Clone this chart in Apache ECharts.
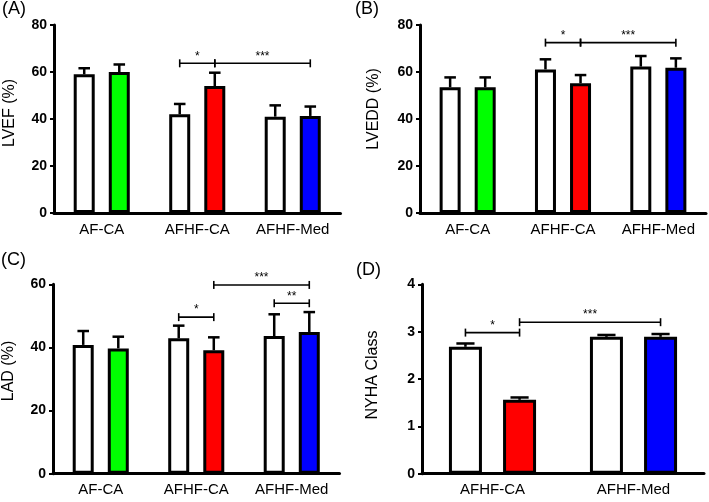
<!DOCTYPE html>
<html><head><meta charset="utf-8">
<script src="https://cdn.jsdelivr.net/npm/echarts@6/dist/echarts.min.js"></script>
<style>html,body{margin:0;padding:0;background:#fff}#c{width:709px;height:502px}</style>
</head><body><div id="c"></div>
<script>
// ---- data ----
const catsABC = ['AF-CA', 'AFHF-CA', 'AFHF-Med'];
const catsD = ['AFHF-CA', 'AFHF-Med'];
const colorsABC = ['#00ff00', '#ff0000', '#0000ff'];
const colorsD = ['#ff0000', '#0000ff'];

const lvefBefore = [59, 42, 41];
const lvefBeforeErr = [2.6, 4.4, 4.8];
const lvefAfter = [60, 54, 41.3];
const lvefAfterErr = [3.2, 5.7, 4.0];

const lveddBefore = [53.5, 61.1, 62.3];
const lveddBeforeErr = [4.2, 4.3, 4.5];
const lveddAfter = [53.5, 55.2, 61.8];
const lveddAfterErr = [4.2, 3.5, 4.0];

const ladBefore = [40.8, 42.9, 43.6];
const ladBeforeErr = [4.4, 4.0, 6.9];
const ladAfter = [39.7, 39.1, 44.9];
const ladAfterErr = [3.7, 4.1, 6.3];

const nyhaBefore = [2.68, 2.89];
const nyhaBeforeErr = [0.07, 0.04];
const nyhaAfter = [1.56, 2.89];
const nyhaAfterErr = [0.05, 0.06];

// brackets: [fromCategory, fromSide(0 white,1 colour), toCategory, toSide, y]
const lvefBrackets = [[1, 0, 1, 1, 63.7], [1, 1, 2, 1, 63.7]];
const lvefBracketLabels = ['*', '***'];
const lveddBrackets = [[1, 0, 1, 1, 72.5], [1, 1, 2, 1, 72.5]];
const lveddBracketLabels = ['*', '***'];
const ladBrackets = [[1, 0, 1, 1, 49.6], [2, 0, 2, 1, 54], [1, 1, 2, 1, 59.8]];
const ladBracketLabels = ['*', '**', '***'];
const nyhaBrackets = [[0, 0, 0, 1, 2.98], [0, 1, 1, 1, 3.2]];
const nyhaBracketLabels = ['*', '***'];

const yNames = ['LVEF (%)', 'LVEDD (%)', 'LAD (%)', 'NYHA Class'];
const panelLabels = ['(A)', '(B)', '(C)', '(D)'];

// ---- layout ----
const FONT = 'Liberation Sans, Arial, sans-serif';
const grids = [
  {left: 54, top: 25, width: 286.5, height: 188},
  {left: 420, top: 25, width: 286, height: 188},
  {left: 53, top: 284.3, width: 286.5, height: 189.4},
  {left: 422, top: 284.3, width: 282, height: 189.4}
];
const yRanges = [[0, 80, 20], [0, 80, 20], [0, 60, 20], [0, 4, 1]];
const nameGaps = [36, 38, 36, 41];
const namePads = [[0, 0, 0, 12], [0, 0, 0, 20], [0, 0, 0, 16], [0, 0, 0, 8]];
const barW = [21, 21, 21, 33];
const barGapFrac = [0.67, 0.67, 0.67, 0.64];

const panels = [
  {cats: catsABC, colors: colorsABC, b: lvefBefore, be: lvefBeforeErr, a: lvefAfter, ae: lvefAfterErr, br: lvefBrackets, bl: lvefBracketLabels},
  {cats: catsABC, colors: colorsABC, b: lveddBefore, be: lveddBeforeErr, a: lveddAfter, ae: lveddAfterErr, br: lveddBrackets, bl: lveddBracketLabels},
  {cats: catsABC, colors: colorsABC, b: ladBefore, be: ladBeforeErr, a: ladAfter, ae: ladAfterErr, br: ladBrackets, bl: ladBracketLabels},
  {cats: catsD, colors: colorsD, b: nyhaBefore, be: nyhaBeforeErr, a: nyhaAfter, ae: nyhaAfterErr, br: nyhaBrackets, bl: nyhaBracketLabels}
];

const xAxes = [], yAxes = [], series = [];
panels.forEach((p, i) => {
  xAxes.push({
    type: 'category', gridIndex: i, data: p.cats,
    axisLine: {lineStyle: {color: '#000', width: 3}},
    axisTick: {alignWithLabel: true, length: 5, lineStyle: {color: '#000', width: 2}},
    axisLabel: {color: '#000', fontSize: 15, fontFamily: FONT, margin: 9, interval: 0},
    splitLine: {show: false}
  });
  yAxes.push({
    type: 'value', gridIndex: i, min: yRanges[i][0], max: yRanges[i][1], interval: yRanges[i][2],
    name: yNames[i], nameLocation: 'middle', nameGap: nameGaps[i], nameRotate: 90,
    nameTextStyle: {color: '#000', fontSize: 16, fontFamily: FONT, padding: namePads[i]},
    axisLine: {show: true, lineStyle: {color: '#000', width: 3}},
    axisTick: {show: true, length: 4, lineStyle: {color: '#000', width: 2}},
    axisLabel: {color: '#000', fontSize: 14, fontWeight: 'bold', fontFamily: FONT, margin: 7},
    splitLine: {show: false}
  });
  const off = barW[i] * (1 + barGapFrac[i]) / 2;
  const capW = barW[i] * 0.55;
  series.push({
    type: 'bar', xAxisIndex: i, yAxisIndex: i, barWidth: barW[i], barGap: (barGapFrac[i] * 100) + '%',
    data: p.b, itemStyle: {color: '#fff', borderColor: '#000', borderWidth: 3}, z: 2, silent: true
  });
  series.push({
    type: 'bar', xAxisIndex: i, yAxisIndex: i, barWidth: barW[i],
    data: p.a.map((v, k) => ({value: v, itemStyle: {color: p.colors[k]}})),
    itemStyle: {borderColor: '#000', borderWidth: 3}, z: 2, silent: true
  });
  const errData = [];
  p.b.forEach((v, k) => errData.push([k, v, p.be[k], 0]));
  p.a.forEach((v, k) => errData.push([k, v, p.ae[k], 1]));
  series.push({
    type: 'custom', xAxisIndex: i, yAxisIndex: i, z: 3, silent: true, clip: false,
    encode: {x: 0, y: 1},
    data: errData,
    renderItem: function (params, api) {
      const cat = api.value(0), v = api.value(1), e = api.value(2), side = api.value(3);
      const p0 = api.coord([cat, v]);
      const p1 = api.coord([cat, v + e]);
      const x = p0[0] + (side ? 1 : -1) * off;
      return {type: 'group', children: [
        {type: 'line', shape: {x1: x, y1: p0[1], x2: x, y2: p1[1]}, style: {stroke: '#000', lineWidth: 2.5}},
        {type: 'line', shape: {x1: x - capW / 2, y1: p1[1], x2: x + capW / 2, y2: p1[1]}, style: {stroke: '#000', lineWidth: 2.5}}
      ]};
    }
  });
  series.push({
    type: 'custom', xAxisIndex: i, yAxisIndex: i, z: 4, silent: true, clip: false,
    encode: {x: 0, y: 4},
    data: p.br,
    renderItem: function (params, api) {
      const b = p.br[params.dataIndex];
      const a1 = api.coord([b[0], b[4]]);
      const a2 = api.coord([b[2], b[4]]);
      const x1 = a1[0] + (b[1] ? 1 : -1) * off;
      const x2 = a2[0] + (b[3] ? 1 : -1) * off;
      const y = a1[1];
      const st = {stroke: '#000', lineWidth: 1.6};
      return {type: 'group', children: [
        {type: 'line', shape: {x1: x1, y1: y, x2: x2, y2: y}, style: st},
        {type: 'line', shape: {x1: x1, y1: y - 4, x2: x1, y2: y + 4}, style: st},
        {type: 'line', shape: {x1: x2, y1: y - 4, x2: x2, y2: y + 4}, style: st},
        {type: 'text', x: (x1 + x2) / 2, y: y - 1, style: {text: p.bl[params.dataIndex], fill: '#000', fontSize: 12, fontFamily: FONT, align: 'center', verticalAlign: 'bottom'}}
      ]};
    }
  });
});

const titlePos = [[2, 0], [355, 0], [1, 251], [356, 261]];
const option = {
  animation: false,
  backgroundColor: '#fff',
  title: panelLabels.map((t, i) => ({text: t, left: titlePos[i][0], top: titlePos[i][1], padding: 0,
    textStyle: {fontSize: 18, fontWeight: 'normal', color: '#000', fontFamily: FONT}})),
  grid: grids,
  xAxis: xAxes,
  yAxis: yAxes,
  series: series
};
const chart = echarts.init(document.getElementById('c'), null, {renderer: 'canvas'});
chart.setOption(option);
</script>
</body></html>
